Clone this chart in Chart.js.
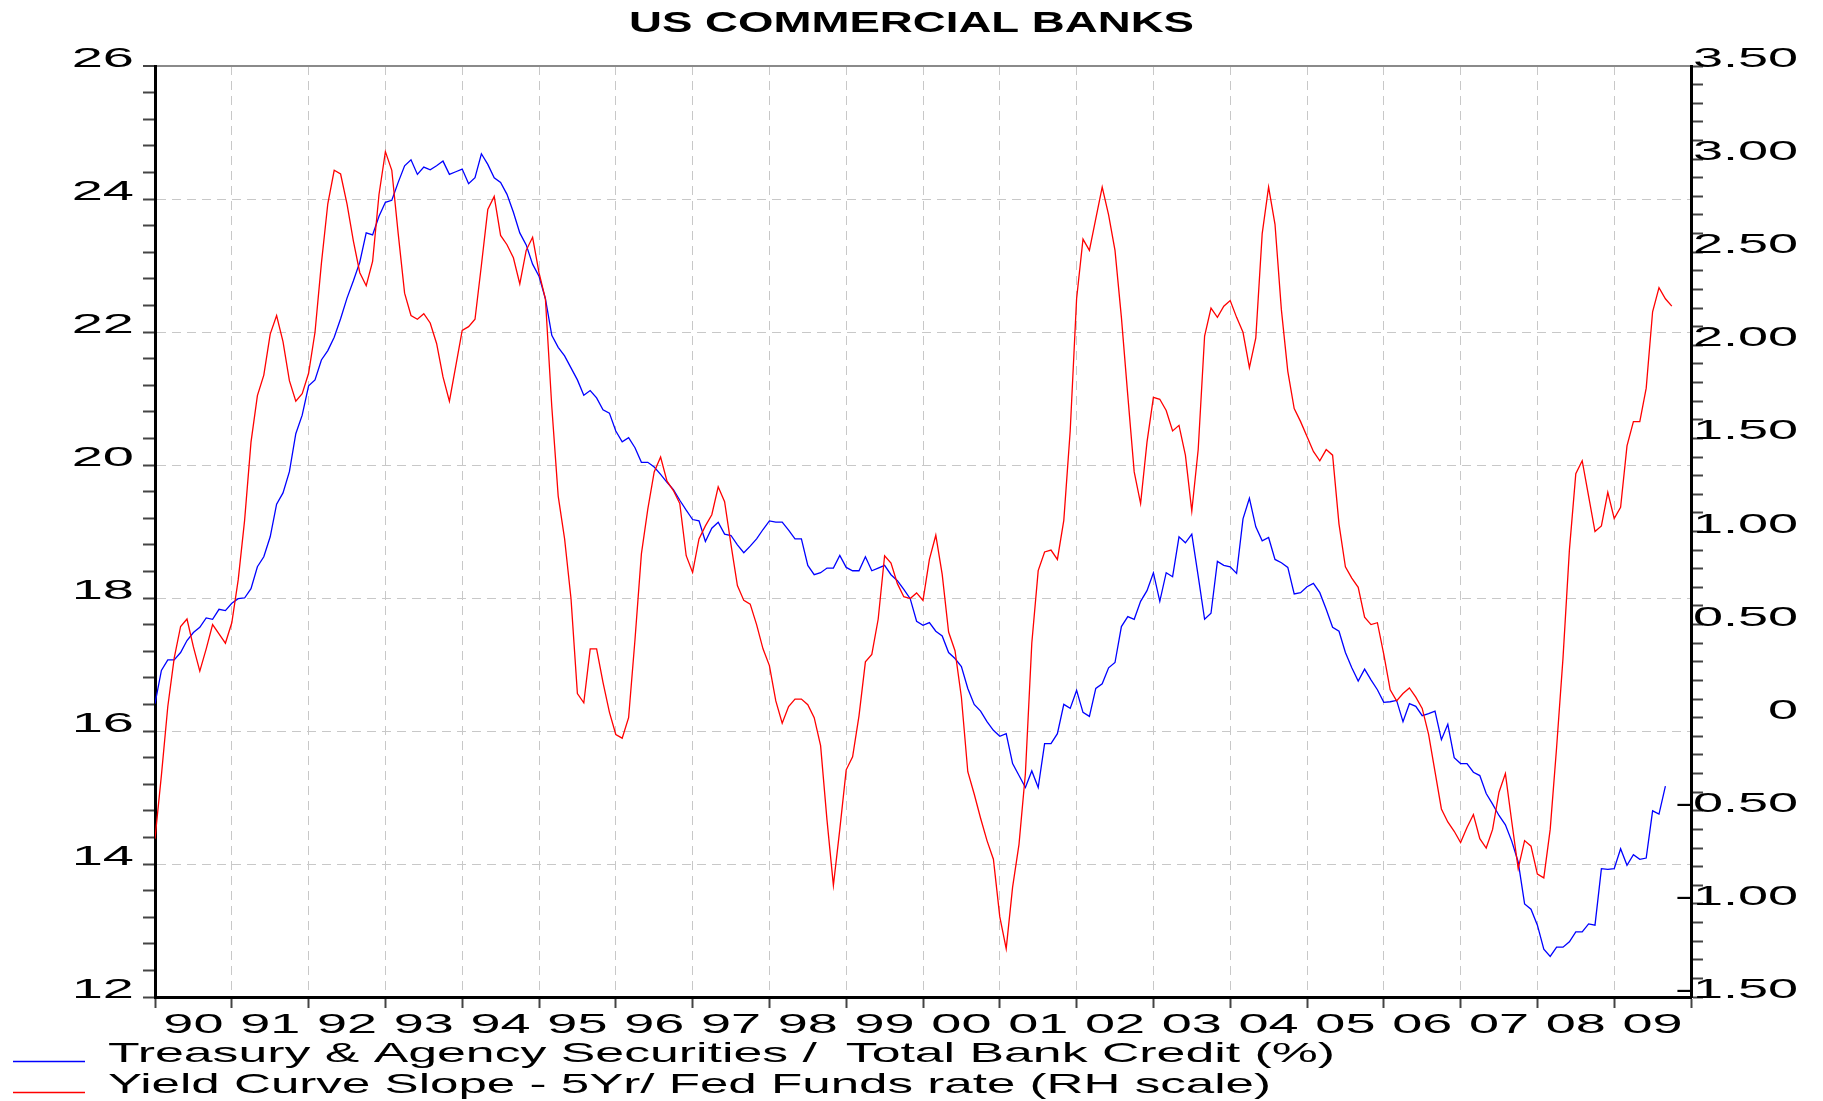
<!DOCTYPE html>
<html>
<head>
<meta charset="utf-8">
<title>US Commercial Banks</title>
<script src="https://cdn.jsdelivr.net/npm/chart.js@4.4.1/dist/chart.umd.min.js"></script>
<style>
html,body{margin:0;padding:0;background:#fff;}
#wrap{width:1823px;height:1101px;}
</style>
</head>
<body>
<div id="wrap"><canvas id="c" width="1823" height="1101"></canvas></div>
<script>
'use strict';

// monthly, Jan 1990 onwards
const yearLabels = ['90','91','92','93','94','95','96','97','98','99','00','01','02','03','04','05','06','07','08','09'];
const leftTicks = [12,14,16,18,20,22,24,26];
const rightTicks = [3.5,3,2.5,2,1.5,1,0.5,0,-0.5,-1,-1.5];
const seriesNames = [
  'Treasury & Agency Securities /  Total Bank Credit (%)',
  'Yield Curve Slope - 5Yr/ Fed Funds rate (RH scale)'
];

// Treasury & Agency securities / total bank credit (%), left scale
const treasuryShare = [
  16.41,16.91,17.07,17.07,17.18,17.36,17.48,17.56,17.70,17.68,17.83,17.81,
  17.92,17.99,18.00,18.14,18.47,18.62,18.92,19.41,19.58,19.90,20.47,20.75,
  21.19,21.28,21.58,21.72,21.92,22.20,22.51,22.77,23.05,23.49,23.46,23.74,
  23.95,23.98,24.25,24.50,24.59,24.37,24.48,24.44,24.50,24.57,24.37,24.41,
  24.45,24.23,24.32,24.68,24.52,24.32,24.25,24.07,23.80,23.49,23.31,23.02,
  22.84,22.50,21.95,21.77,21.64,21.46,21.28,21.05,21.12,21.01,20.83,20.78,
  20.51,20.35,20.41,20.26,20.04,20.04,19.97,19.86,19.74,19.63,19.47,19.32,
  19.18,19.16,18.85,19.05,19.14,18.96,18.94,18.80,18.68,18.78,18.89,19.03,
  19.16,19.14,19.14,19.02,18.89,18.89,18.49,18.35,18.38,18.45,18.45,18.64,
  18.46,18.41,18.41,18.62,18.41,18.45,18.49,18.35,18.26,18.13,17.99,17.65,
  17.59,17.63,17.50,17.43,17.18,17.09,16.97,16.64,16.40,16.30,16.14,16.01,
  15.92,15.96,15.51,15.33,15.15,15.40,15.15,15.81,15.81,15.96,16.40,16.34,
  16.61,16.28,16.22,16.64,16.71,16.95,17.03,17.57,17.72,17.68,17.95,18.11,
  18.38,17.95,18.38,18.32,18.92,18.83,18.96,18.33,17.68,17.77,18.55,18.49,
  18.47,18.37,19.19,19.50,19.07,18.86,18.91,18.58,18.53,18.46,18.06,18.08,
  18.17,18.22,18.08,17.83,17.56,17.50,17.18,16.95,16.75,16.93,16.77,16.62,
  16.43,16.44,16.46,16.14,16.41,16.37,16.23,16.26,16.30,15.87,16.10,15.60,
  15.51,15.51,15.38,15.33,15.06,14.90,14.73,14.59,14.34,14.03,13.40,13.32,
  13.08,12.72,12.61,12.75,12.75,12.83,12.98,12.98,13.10,13.08,13.93,13.92,
  13.93,14.23,13.98,14.14,14.07,14.09,14.80,14.75,15.17
];

// 5yr yield minus fed funds rate, right scale
const curveSlope = [
  -0.65,-0.31,0.06,0.32,0.49,0.53,0.38,0.25,0.37,0.50,0.45,0.40,
  0.51,0.74,1.06,1.48,1.73,1.84,2.06,2.16,2.02,1.81,1.70,1.74,
  1.85,2.07,2.44,2.76,2.94,2.92,2.76,2.56,2.39,2.32,2.45,2.81,
  3.04,2.94,2.60,2.28,2.16,2.14,2.17,2.12,2.01,1.83,1.70,1.89,
  2.08,2.10,2.14,2.43,2.73,2.80,2.59,2.54,2.47,2.33,2.51,2.58,
  2.39,2.25,1.67,1.19,0.96,0.64,0.13,0.08,0.37,0.37,0.19,0.03,
  -0.09,-0.11,0.00,0.42,0.88,1.12,1.32,1.40,1.27,1.22,1.15,0.87,
  0.78,0.96,1.03,1.09,1.24,1.16,0.93,0.71,0.63,0.61,0.50,0.37,
  0.28,0.09,-0.03,0.06,0.10,0.10,0.07,0.00,-0.15,-0.55,-0.90,-0.60,
  -0.28,-0.21,0.01,0.30,0.34,0.53,0.87,0.83,0.72,0.65,0.64,0.67,
  0.63,0.85,0.98,0.77,0.46,0.36,0.11,-0.29,-0.41,-0.54,-0.66,-0.76,
  -1.07,-1.24,-0.91,-0.68,-0.30,0.40,0.79,0.89,0.90,0.85,1.06,1.54,
  2.25,2.57,2.51,2.68,2.85,2.70,2.51,2.15,1.73,1.32,1.15,1.48,
  1.72,1.71,1.65,1.54,1.57,1.41,1.11,1.44,2.05,2.20,2.15,2.21,
  2.24,2.15,2.07,1.88,2.04,2.60,2.85,2.65,2.19,1.86,1.66,1.59,
  1.51,1.43,1.38,1.44,1.41,1.04,0.81,0.75,0.70,0.54,0.50,0.51,
  0.34,0.15,0.09,0.13,0.16,0.11,0.05,-0.09,-0.29,-0.49,-0.56,-0.61,
  -0.67,-0.59,-0.52,-0.65,-0.70,-0.60,-0.40,-0.30,-0.56,-0.81,-0.66,-0.69,
  -0.84,-0.86,-0.60,-0.16,0.32,0.90,1.31,1.38,1.19,1.00,1.03,1.21,
  1.07,1.13,1.46,1.59,1.59,1.77,2.18,2.31,2.25,2.21
];

const BLUE = '#0000ff', RED = '#ff0000', GRID = '#c8c8c8', TICK = '#444';
const DASH = [9, 6];
const LBL = '"Liberation Sans", Arial, sans-serif';

function isStep(v, s) { const q = v / s; return Math.abs(q - Math.round(q)) < 1e-6; }

function say(ctx, txt, x, y, font, sx, align) {
  ctx.save();
  ctx.font = font; ctx.textAlign = align; ctx.textBaseline = 'alphabetic';
  ctx.translate(x, y); ctx.scale(sx, 1);
  ctx.fillText(txt, 0, 0);
  ctx.restore();
}
function fitScale(ctx, txt, font, w) {
  ctx.save(); ctx.font = font;
  const m = ctx.measureText(txt).width;
  ctx.restore();
  return w / m;
}

const textPlugin = {
  id: 'stretchText',
  afterDraw(chart) {
    const {ctx, chartArea: ca, scales} = chart;
    ctx.save();
    ctx.fillStyle = '#000';
    // title
    const tf = 'bold 30px ' + LBL, title = 'US COMMERCIAL BANKS';
    say(ctx, title, chart.width / 2, 32, tf, fitScale(ctx, title, tf, 565), 'center');
    // left labels
    leftTicks.forEach(v => say(ctx, String(v), ca.left - 21, scales.y.getPixelForValue(v) + 1, '28px ' + LBL, 2.0, 'right'));
    // right labels
    rightTicks.forEach(v => say(ctx, v === 0 ? '0' : v.toFixed(2), ca.right + 107, scales.y1.getPixelForValue(v) + 1, '27px ' + LBL, 2.0, 'right'));
    // year labels
    yearLabels.forEach((t, i) => say(ctx, t, scales.x.getPixelForValue(i * 12 + 6), ca.bottom + 36, '27px ' + LBL, 2.0, 'center'));
    // legend
    const lf = '28px ' + LBL;
    [[BLUE, 1062, 1227], [RED, 1093, 1163]].forEach(([col, y, w], i) => {
      ctx.strokeStyle = col; ctx.lineWidth = 1.3;
      ctx.beginPath(); ctx.moveTo(13, y - 0.5); ctx.lineTo(85, y - 0.5); ctx.stroke();
      say(ctx, seriesNames[i], 108, y, lf, fitScale(ctx, seriesNames[i], lf, w), 'left');
    });
    ctx.restore();
  }
};

new Chart(document.getElementById('c'), {
  type: 'line',
  data: {
    datasets: [
      {label: seriesNames[0], data: treasuryShare.map((v, i) => ({x: i, y: v})), yAxisID: 'y',
       borderColor: BLUE, borderWidth: 1.3, pointRadius: 0, tension: 0, order: 1},
      {label: seriesNames[1], data: curveSlope.map((v, i) => ({x: i, y: v})), yAxisID: 'y1',
       borderColor: RED, borderWidth: 1.3, pointRadius: 0, tension: 0, order: 0}
    ]
  },
  options: {
    responsive: false, animation: false, events: [],
    layout: {padding: {top: 66, left: 0, right: 0, bottom: 0}},
    plugins: {legend: {display: false}, tooltip: {enabled: false}},
    scales: {
      x: {
        type: 'linear', position: 'bottom', min: 0, max: 240,
        afterFit: s => { s.height = 104; },
        ticks: {display: false, stepSize: 12},
        grid: {color: c => (c.tick && c.tick.value > 0 && c.tick.value < 240) ? GRID : 'rgba(0,0,0,0)',
               lineWidth: 1, tickLength: 11, tickWidth: 2, tickColor: TICK},
        border: {color: '#000', width: 3, dash: DASH}
      },
      y: {
        type: 'linear', position: 'left', min: 12, max: 26,
        afterFit: s => { s.width = 155; },
        ticks: {display: false, stepSize: 0.4},
        grid: {
          color: c => {
            if (!c.tick) return 'rgba(0,0,0,0)';
            const v = c.tick.value;
            if (Math.abs(v - 26) < 1e-6) return '#8a8a8a';
            if (v > 12.01 && isStep(v, 2)) return GRID;
            return 'rgba(0,0,0,0)';
          },
          lineWidth: c => (c.tick && Math.abs(c.tick.value - 26) < 1e-6) ? 2 : 1,
          tickLength: 12, tickWidth: 2, tickColor: TICK
        },
        border: {color: '#000', width: 3,
                 dash: c => (c.tick && Math.abs(c.tick.value - 26) > 1e-6) ? DASH : []}
      },
      y1: {
        type: 'linear', position: 'right', min: -1.5, max: 3.5,
        afterFit: s => { s.width = 132; },
        ticks: {display: false, stepSize: 0.1},
        grid: {drawOnChartArea: false, tickLength: 12, tickWidth: 2, tickColor: TICK},
        border: {color: '#000', width: 3}
      }
    }
  },
  plugins: [textPlugin]
});
</script>
</body>
</html>
